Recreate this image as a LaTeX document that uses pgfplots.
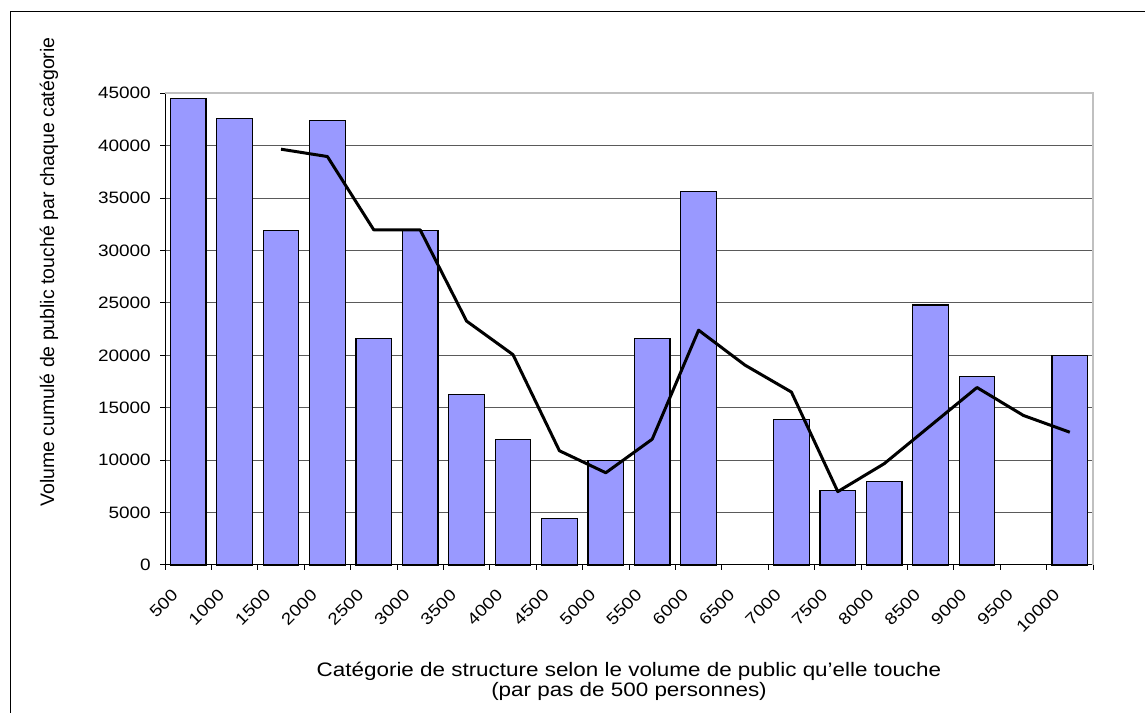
\documentclass[border=0pt]{standalone}
\usepackage{fontspec}
\setmainfont{Liberation Sans}[FakeStretch=1.15]
\newfontfamily\ylabfont{Liberation Sans}
\usepackage{pgfplots}
\pgfplotsset{compat=1.18}
\definecolor{barblue}{HTML}{9999FF}
\definecolor{gridgray}{RGB}{90,90,90}
\definecolor{framegray}{RGB}{192,192,192}

\begin{document}
\begin{tikzpicture}
\useasboundingbox (0,0) rectangle (1145bp,713bp);
\fill[white] (0,0) rectangle (1145bp,713bp);
% chart frame (left and top edges)
\draw[line width=1.3bp] (10.5bp,-2bp) -- (10.5bp,701.5bp) -- (1150bp,701.5bp);
\begin{axis}[
  at={(165bp,148bp)}, anchor=south west,
  scale only axis, width=928bp, height=471.7bp,
  xmin=-0.5, xmax=19.5, ymin=0, ymax=45000,
  axis lines*=left, axis line style={-, line width=1bp, black},
  tick align=outside, major tick length=5bp,
  tick style={black, line width=1bp},
  xtick={-0.5,0.5,...,19.5},
  xticklabels={500,1000,1500,2000,2500,3000,3500,4000,4500,5000,5500,6000,6500,7000,7500,8000,8500,9000,9500,10000,{}},
  ytick={0,5000,...,45000},
  scaled y ticks=false,
  ymajorgrids, major grid style={gridgray, line width=1bp},
  /pgf/number format/assume math mode=true,
  /pgf/number format/1000 sep={},
  tick label style={font=\fontsize{16.5bp}{19bp}\selectfont},
  yticklabel style={inner sep=0pt, xshift=-9bp},
  xticklabel style={inner sep=0pt, xshift=10bp, yshift=-22bp, rotate=45, anchor=east},
  clip=false,
]
% cumulated audience per category (6500 and 9500 are empty)
\addplot[ybar, bar width=0.77, draw=black, line width=1.2bp, fill=barblue]
  coordinates {(0,44500) (1,42600) (2,31900) (3,42400) (4,21600) (5,31900)
               (6,16300) (7,12000) (8,4400) (9,10000) (10,21600) (11,35600)
               (13,13900) (14,7100) (15,8000) (16,24800) (17,18000) (19,20000)};
% 3-period moving average
\addplot[black, line width=3bp, line join=round, mark=none]
  coordinates {(2,39667) (3,38967) (4,31967) (5,31967) (6,23267) (7,20067)
               (8,10900) (9,8800) (10,12000) (11,22400) (12,19067) (13,16500)
               (14,7000) (15,9667) (16,13300) (17,16933) (18,14267) (19,12667)};
\draw[framegray, line width=2bp] (rel axis cs:0,1) -- (rel axis cs:1,1) -- (rel axis cs:1,0);
\end{axis}
\node[rotate=90, anchor=base, inner sep=0pt, font=\ylabfont\fontsize{19.5bp}{22bp}\selectfont]
  at (54bp,441bp) {Volume cumulé de public touché par chaque catégorie};
\node[anchor=base, inner sep=0pt, font=\fontsize{19.5bp}{22bp}\selectfont]
  at (629bp,37bp) {Catégorie de structure selon le volume de public qu'elle touche};
\node[anchor=base, inner sep=0pt, font=\fontsize{19.5bp}{22bp}\selectfont]
  at (629bp,17bp) {(par pas de 500 personnes)};
\end{tikzpicture}
\end{document}
